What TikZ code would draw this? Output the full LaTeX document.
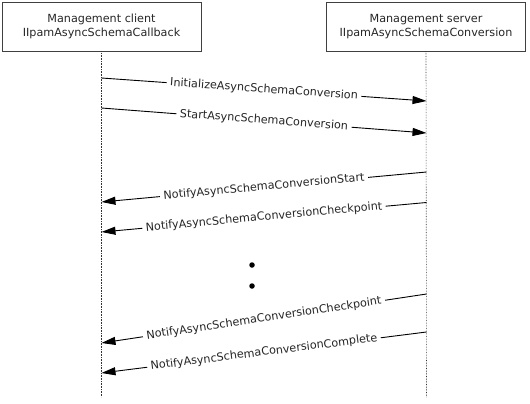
\documentclass[tikz,border=0pt]{standalone}
\usepackage{fontspec}
\setmainfont{DejaVu Sans}
\usetikzlibrary{arrows.meta}
\begin{document}
\begin{tikzpicture}[x=1pt,y=-1pt,
  actor/.style={draw=black!75, line width=0.8pt, minimum width=199pt, minimum height=49pt, align=center, font=\fontsize{11.2}{14}\selectfont, text=black!85, inner sep=0pt},
  life/.style={densely dotted, line width=0.6pt, draw=black!80},
  msg/.style={line width=0.9pt, -{Triangle[length=14pt,width=8pt]}},
  lbl/.style={fill=white, sloped, inner xsep=3.5pt, inner ysep=0.5pt, font=\fontsize{11.2}{12}\selectfont, text=black!85},
  dot/.style={circle, fill=black, inner sep=0pt, minimum size=5.5pt}]
\useasboundingbox (0,0) rectangle (530,404);
\node[actor] (cl) at (101.5,26.5) {Management client\\IIpamAsyncSchemaCallback};
\node[actor] (sv) at (426,26.5) {Management server\\IIpamAsyncSchemaConversion};
\coordinate (clend) at (101.5,397);
\coordinate (svend) at (426.5,397);
\draw[life] (cl.south) -- (clend);
\draw[life] (sv.south) -- (svend);
% lifeline points
\coordinate (c1) at (101.5,78);   \coordinate (s1) at (426.5,101);
\coordinate (c2) at (101.5,108);  \coordinate (s2) at (426.5,133);
\coordinate (s3) at (426.5,172);  \coordinate (c3) at (101.5,202);
\coordinate (s4) at (426.5,202.5);\coordinate (c4) at (101.5,232);
\coordinate (s5) at (426.5,294);  \coordinate (c5) at (101.5,343);
\coordinate (s6) at (426.5,332);  \coordinate (c6) at (101.5,373);
\draw[msg] (c1) -- node[lbl] {InitializeAsyncSchemaConversion} (s1);
\draw[msg] (c2) -- node[lbl] {StartAsyncSchemaConversion} (s2);
\draw[msg] (s3) -- node[lbl] {NotifyAsyncSchemaConversionStart} (c3);
\draw[msg] (s4) -- node[lbl] {NotifyAsyncSchemaConversionCheckpoint} (c4);
\draw[msg] (s5) -- node[lbl] {NotifyAsyncSchemaConversionCheckpoint} (c5);
\draw[msg] (s6) -- node[lbl] {NotifyAsyncSchemaConversionComplete} (c6);
\node[dot] (d1) at (252,265) {};
\node[dot] (d2) at (252,286) {};
\end{tikzpicture}
\end{document}
